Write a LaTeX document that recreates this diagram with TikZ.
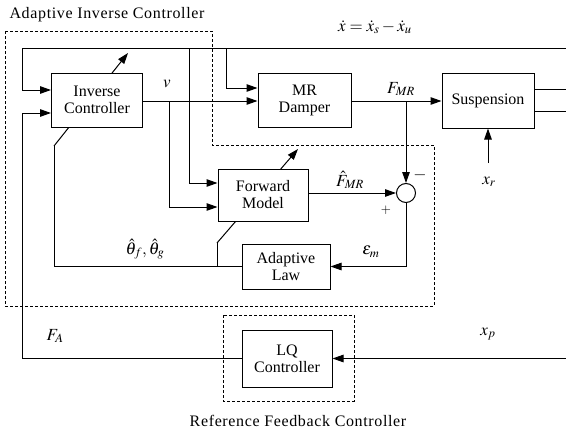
\documentclass[tikz,border=0pt]{standalone}
\usepackage{mathptmx}
\usepackage{fontspec}
\setmainfont{Liberation Serif}
\usetikzlibrary{arrows.meta,backgrounds}
\tikzset{
  blk/.style={draw, line width=1pt, fill=white, align=center, inner sep=0pt,
    font=\fontsize{16}{17}\selectfont},
  ln/.style={line width=1pt},
  arr/.style={line width=1pt, -{Triangle[length=11pt,width=7.5pt]}},
  lbl/.style={font=\fontsize{17}{18}\selectfont, inner sep=0pt},
  ttl/.style={font=\fontsize{16}{17}\selectfont\addfontfeature{LetterSpace=4}, inner sep=0pt},
  dbox/.style={line width=0.9pt, dashed, dash pattern=on 3pt off 2pt}
}
\begin{document}
\begin{tikzpicture}[x=1pt,y=-1pt]
\useasboundingbox (0,0) rectangle (566,434);
% blocks
\node[blk, minimum width=91pt, minimum height=54pt] (ic) at (97,100) {Inverse\\Controller};
\node[blk, minimum width=93pt, minimum height=54pt] (mr) at (304.5,100) {MR\\Damper};
\node[blk, minimum width=92pt, minimum height=55pt] (sus) at (488,100.5) {Suspension};
\node[blk, minimum width=90pt, minimum height=52pt] (fm) at (263,195) {Forward\\Model};
\node[blk, minimum width=88pt, minimum height=45pt] (al) at (286,266.5) {Adaptive\\Law};
\node[blk, minimum width=90pt, minimum height=57pt] (lq) at (287,358.5) {LQ\\Controller};
\node[draw, circle, line width=1pt, minimum size=19pt, inner sep=0pt, fill=white] (sum) at (406,193) {};
% coordinates
\coordinate (topR) at (566,48);
\coordinate (topL) at (22,48);
\coordinate (icA) at (22,90);
\coordinate (icB) at (22,113);
\coordinate (b1) at (189,48);
\coordinate (b1e) at (189,183);
\coordinate (b2) at (226,48);
\coordinate (b2e) at (226,88);
\coordinate (b3) at (169,101);
\coordinate (b3e) at (169,207);
\coordinate (b4) at (406,101);
\coordinate (lqR) at (566,358.5);
\coordinate (lqL) at (22,358.5);
\coordinate (xrB) at (488,163);
\coordinate (o1) at (566,89);
\coordinate (o2) at (566,111);
\coordinate (aL) at (54,266.5);
\coordinate (aB) at (54,146);
\coordinate (aT) at (128,53);
\coordinate (fJ) at (217,266.5);
\coordinate (fB) at (217,243);
\coordinate (fT) at (298,149);
% adaptation arrows behind blocks
\begin{scope}[on background layer]
\draw[arr] (aB) -- (aT);
\draw[arr] (fB) -- (fT);
\end{scope}
% feedback top line
\draw[ln] (topR) -- (topL) -- (icA);
\draw[arr] (icA) -- (ic.west |- icA);
\draw[ln] (b1) -- (b1e);
\draw[arr] (b1e) -- (fm.west |- b1e);
\draw[ln] (b2) -- (b2e);
\draw[arr] (b2e) -- (mr.west |- b2e);
% v
\draw[arr] (ic.east |- b3) -- (mr.west |- b3);
\draw[ln] (b3) -- (b3e);
\draw[arr] (b3e) -- (fm.west |- b3e);
% F_MR
\draw[arr] (mr.east |- b4) -- (sus.west |- b4);
\draw[arr] (b4) -- (sum.north);
\draw[arr] (fm.east |- sum) -- (sum.west);
\draw[arr] (sum.south) |- (al.east);
% adaptive law outputs
\draw[ln] (al.west) -- (aL) -- (aB);
\draw[ln] (fJ) -- (fB);
% suspension
\draw[ln] (sus.east |- o1) -- (o1);
\draw[ln] (sus.east |- o2) -- (o2);
\draw[arr] (xrB) -- (sus.south);
% LQ
\draw[arr] (lqR) -- (lq.east);
\draw[ln] (lq.west) -- (lqL) -- (icB);
\draw[arr] (icB) -- (ic.west |- icB);
% dashed boxes
\draw[dbox] (5,31) -- (212,31) -- (212,145) -- (434,145) -- (434,306) -- (5,306) -- cycle;
\draw[dbox] (223,315) rectangle (354,401);
% labels
\node[lbl] (lv) at (167,84) {$v$};
\node[lbl] (lfmr) at (401,89) {$F_{MR}$};
\node[lbl] (lxr) at (489,182) {$x_r$};
\node[lbl] (lfh) at (350,180) {$\hat{F}_{MR}$};
\node[lbl, font=\fontsize{13}{14}\selectfont] (lp) at (386,210) {$+$};
\node[lbl] (lm) at (420,175) {$-$};
\node[lbl] (le) at (371,252) {$\varepsilon_m$};
\node[lbl] (lth) at (145,249) {$\hat{\theta}_f,\hat{\theta}_g$};
\node[lbl] (lfa) at (55,336) {$F_A$};
\node[lbl] (lxp) at (488,334) {$x_p$};
\node[lbl] (leq) at (375,27) {$\dot{x}=\dot{x}_s-\dot{x}_u$};
\node[ttl] (t1) at (107,15) {Adaptive Inverse Controller};
\node[ttl] (t2) at (298,421) {Reference Feedback Controller};
\end{tikzpicture}
\end{document}
